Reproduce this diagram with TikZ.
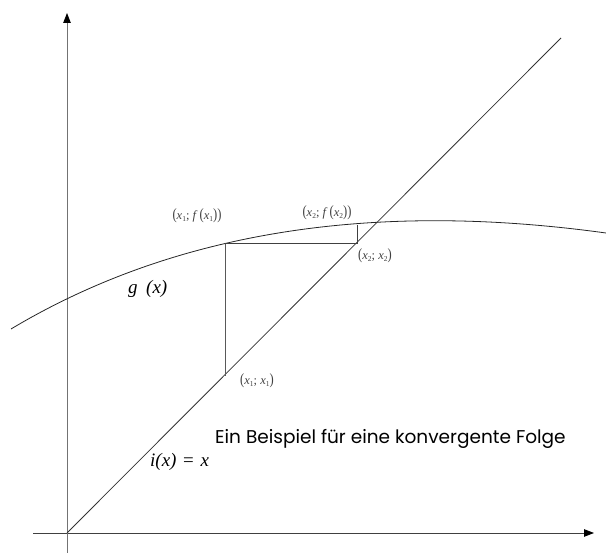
\documentclass[tikz,border=0pt]{standalone}
\usepackage{fontspec}
\setmainfont{Liberation Serif}
\newfontfamily\gothic{Poppins}
\usetikzlibrary{arrows.meta}
\newcommand{\vx}[1]{\textit{x}\raisebox{-0.35ex}{\scalebox{0.6}{#1}}}
\newcommand{\bigp}[1]{{\scalebox{1}[1.25]{(}}#1{\scalebox{1}[1.25]{)}}}
\begin{document}
\begin{tikzpicture}[x=1pt,y=-1pt,
  axis/.style={line width=0.9pt,-{Triangle[length=10pt,width=7.5pt,fill=black,color=black]}},
  thin line/.style={line width=0.8pt},
  ptlabel/.style={font=\fontsize{12.5}{14}\selectfont,inner sep=0pt,text=black!75},
  fnlabel/.style={font=\fontsize{19}{22}\selectfont\itshape,inner sep=0pt}]
\useasboundingbox (0,0) rectangle (606,553);
\coordinate (xa0) at (33,533);
\coordinate (xa1) at (594,533);
\coordinate (ya0) at (67,553);
\coordinate (ya1) at (67,13);
\coordinate (o) at (67,533);
\coordinate (dtop) at (561,38);
\coordinate (cl) at (11,329);
\coordinate (cr) at (606,233);
\coordinate (p1) at (225,243);
\coordinate (q1) at (225,376);
\coordinate (q2) at (357,243);
\coordinate (p2) at (357,225);
\draw[axis,color=black!75] (xa0) -- (xa1);
\draw[axis,color=black!55] (ya0) -- (ya1);
\draw[thin line,black!80] (o) -- (dtop);
\draw[thin line,black!85] (cl) .. controls (175,231) and (374,201) .. (cr);
\draw[thin line,black!65] (p1) -- (q1);
\draw[thin line,black!75] (p1) -- (q2) -- (p2);
\node[ptlabel] (l1) at (197,216) {\bigp{\vx{1}; \textit{f}\,\bigp{\vx{1}}}};
\node[ptlabel] (l2) at (327,213) {\bigp{\vx{2}; \textit{f}\,\bigp{\vx{2}}}};
\node[ptlabel] (l3) at (375,256) {\bigp{\vx{2}; \vx{2}}};
\node[ptlabel] (l4) at (257,381) {\bigp{\vx{1}; \vx{1}}};
\node[fnlabel,anchor=west] (g) at (128,289) {g\hspace{0.45em}(x)};
\node[fnlabel,anchor=west] (i) at (150,462) {i(x)\hspace{0.35em}\upshape=\hspace{0.35em}\itshape x};
\node[font=\gothic\fontsize{18.5}{20}\selectfont,anchor=west,inner sep=0pt] (t) at (215,439) {Ein Beispiel für eine konvergente Folge};
\end{tikzpicture}
\end{document}
